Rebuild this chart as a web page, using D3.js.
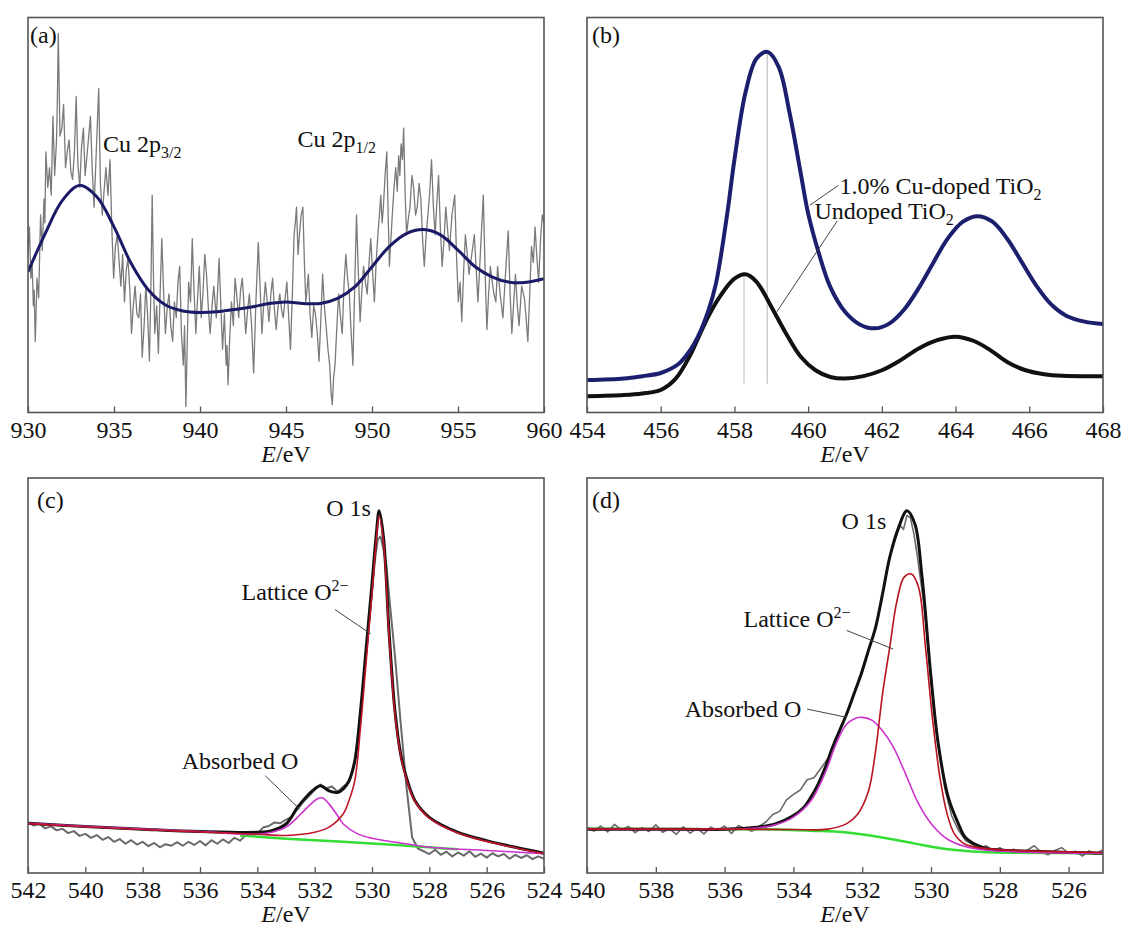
<!DOCTYPE html>
<html>
<head>
<meta charset="utf-8">
<script src="https://cdn.jsdelivr.net/npm/d3@7"></script>
<style>
  body { margin: 0; background: #fff; }
</style>
</head>
<body>
<div id="chart"></div>
<script>
// ---- (a) Cu 2p : raw spectrum and smoothed fit (intensity in a.u., 0-100)
const cuTicks = [930, 935, 940, 945, 950, 955, 960];
const cuRaw = [
  [930.00,40],[930.08,47],[930.17,34],[930.24,38],[930.31,27],[930.36,31],[930.42,18],[930.47,25],
  [930.52,34],[930.62,29],[930.73,50],[930.83,41],[930.93,54],[930.98,48],[931.04,66],[931.15,57],
  [931.25,62],[931.35,55],[931.45,75],[931.55,60],[931.66,69],[931.71,80],[931.76,96],[931.86,70],
  [931.97,72],[932.07,78],[932.18,62],[932.28,66],[932.39,69],[932.49,61],[932.59,59],[932.70,66],
  [932.80,80],[932.90,63],[933.01,57],[933.11,67],[933.22,72],[933.32,60],[933.43,65],[933.53,70],
  [933.63,75],[933.73,62],[933.84,52],[933.97,66],[934.11,82],[934.21,58],[934.32,50],[934.42,56],
  [934.53,62],[934.65,55],[934.77,64],[934.87,47],[934.98,34],[935.08,42],[935.19,45],[935.30,38],
  [935.40,32],[935.50,40],[935.61,28],[935.71,36],[935.81,39],[935.92,31],[936.02,20],[936.12,27],
  [936.23,32],[936.33,25],[936.44,24],[936.54,30],[936.64,14],[936.75,22],[936.85,32],[936.95,25],
  [937.06,13],[937.14,30],[937.22,55],[937.30,33],[937.37,20],[937.48,27],[937.58,15],[937.68,30],
  [937.78,44],[937.88,31],[937.99,20],[938.10,27],[938.20,30],[938.30,22],[938.41,18],[938.51,28],
  [938.62,24],[938.72,33],[938.82,37],[938.92,20],[939.03,12],[939.10,22],[939.18,1.5],[939.26,18],
  [939.34,33],[939.45,28],[939.55,44],[939.65,31],[939.76,20],[939.86,29],[939.96,37],[940.07,24],
  [940.17,30],[940.28,40],[940.38,35],[940.49,26],[940.59,20],[940.70,27],[940.80,32],[940.95,24],
  [941.11,39],[941.21,27],[941.31,16],[941.42,25],[941.52,12],[941.57,17],[941.63,7],[941.73,19],
  [941.83,28],[941.94,22],[942.04,34],[942.15,29],[942.25,24],[942.36,31],[942.46,34],[942.56,27],
  [942.66,20],[942.77,26],[942.87,30],[943.00,22],[943.12,10],[943.25,28],[943.39,43],[943.50,31],
  [943.60,20],[943.70,27],[943.80,33],[943.91,28],[944.01,23],[944.12,30],[944.22,34],[944.33,26],
  [944.43,21],[944.54,27],[944.64,30],[944.74,26],[944.84,24],[944.95,29],[945.05,33],[945.16,24],
  [945.26,16],[945.37,30],[945.47,45],[945.54,48],[945.61,52],[945.70,40],[945.78,45],[945.88,50],
  [945.98,52],[946.07,38],[946.15,28],[946.22,31],[946.30,35],[946.40,25],[946.50,19],[946.61,27],
  [946.71,25],[946.82,20],[946.92,13],[947.03,24],[947.13,35],[947.23,27],[947.33,22],[947.44,16],
  [947.54,12],[947.62,5],[947.69,2],[947.77,9],[947.85,12],[947.96,22],[948.06,30],[948.17,24],
  [948.27,20],[948.38,33],[948.48,40],[948.58,34],[948.68,30],[948.79,20],[948.89,12],[949.00,33],
  [949.10,50],[949.21,35],[949.31,23],[949.41,31],[949.51,37],[949.62,33],[949.72,30],[949.83,38],
  [949.93,44],[950.04,35],[950.14,28],[950.24,38],[950.34,45],[950.43,50],[950.51,55],[950.59,48],
  [950.66,52],[950.76,60],[950.86,66],[950.94,50],[951.01,37],[951.10,44],[951.18,50],[951.28,57],
  [951.38,62],[951.47,56],[951.55,65],[951.62,60],[951.69,68],[951.77,64],[951.84,72],[951.93,55],
  [952.01,45],[952.11,49],[952.21,52],[952.32,60],[952.42,57],[952.53,50],[952.63,52],[952.74,58],
  [952.84,54],[952.94,44],[953.04,37],[953.15,45],[953.25,50],[953.36,56],[953.46,64],[953.57,52],
  [953.67,45],[953.77,53],[953.87,60],[953.98,46],[954.08,37],[954.19,44],[954.29,52],[954.40,46],
  [954.50,41],[954.65,50],[954.81,55],[954.92,39],[955.02,28],[955.12,33],[955.22,23],[955.33,36],
  [955.43,45],[955.54,40],[955.64,35],[955.80,40],[955.95,45],[956.06,36],[956.16,28],[956.32,42],
  [956.47,55],[956.58,35],[956.68,21],[956.78,30],[956.88,37],[956.99,33],[957.09,30],[957.20,28],
  [957.30,37],[957.45,30],[957.61,24],[957.76,35],[957.92,46],[958.03,30],[958.13,20],[958.24,28],
  [958.34,35],[958.45,27],[958.55,22],[958.70,32],[958.86,29],[958.96,24],[959.06,18],[959.17,30],
  [959.27,42],[959.38,38],[959.48,47],[959.59,39],[959.69,33],[959.80,44],[959.90,50],[960.00,48]
];
const cuFit = [
  [930,35.6],[931,45.3],[932,53.7],[933,57.5],[934,54.6],[935,47],[936,37.7],[937,31],[938,27.2],
  [939,25.7],[940,25.3],[941,25.5],[942,26.1],[943,26.7],[944,27.6],[945,28],[946,27.6],[947,27.6],
  [948,28.9],[949,31.8],[950,36.9],[951,42],[952,45.3],[953,46.3],[954,44.9],[955,41.1],[956,36.9],
  [957,34.3],[958,33],[959,33],[960,33.9]
];

// ---- (b) Ti 2p : doped and undoped samples
const tiTicks = [454, 456, 458, 460, 462, 464, 466, 468];
const tiDoped = [
  [454,8.2],[455,8.6],[455.5,9.2],[456,10.0],[456.5,12.4],[456.8,15.8],[457,19.0],[457.3,26.0],
  [457.5,32.7],[457.8,50.0],[458,64.0],[458.3,81.0],[458.6,89.6],[458.9,91.3],[459.2,87.5],
  [459.5,75.7],[459.8,60.5],[460.0,50.4],[460.3,40.0],[460.6,31.8],[461,25.5],[461.4,22.3],
  [461.8,21.3],[462.2,22.5],[462.6,26.0],[463.0,31.5],[463.4,38.0],[463.8,44.2],[464.2,48.3],
  [464.6,49.7],[465.0,48.3],[465.4,44.0],[465.8,38.0],[466.2,32.0],[466.6,27.3],[467.0,24.5],
  [467.5,23.0],[468,22.4]
];
const tiUndoped = [
  [454,4.1],[455,4.4],[455.5,4.8],[456,5.7],[456.4,8.5],[456.8,14.5],[457,18.5],[457.3,24.5],
  [457.6,29.3],[458,33.9],[458.3,35.0],[458.6,33.1],[459,26.8],[459.4,20.0],[459.8,14.1],
  [460.2,10.7],[460.6,9.0],[461,8.6],[461.5,9.2],[462.0,10.7],[462.5,13.2],[463.0,16.2],[463.5,18.3],
  [464.0,19.2],[464.5,18.1],[464.94,15.8],[465.4,12.8],[465.9,10.7],[466.4,9.7],[466.9,9.3],[468,9.2]
];
const tiPeakLines = [[458.26, 35.0], [458.89, 91.0]];

// ---- (c) O 1s, undoped
const o1Ticks = [542, 540, 538, 536, 534, 532, 530, 528, 526, 524];
const o1Raw = [
  [542,12.9],[541.8,12.0],[541.6,12.5],[541.4,11.3],[541.2,11.8],[541,10.8],[540.8,11.2],[540.6,10.1],
  [540.4,10.6],[540.2,9.4],[540,9.9],[539.8,8.9],[539.6,9.6],[539.4,8.4],[539.2,9.1],[539,7.9],
  [538.8,8.6],[538.6,7.4],[538.4,8.3],[538.2,7.2],[538,7.9],[537.8,6.8],[537.6,7.6],[537.4,6.5],
  [537.2,7.3],[537,6.9],[536.8,7.8],[536.6,6.9],[536.4,7.9],[536.2,7.1],[536,8.1],[535.8,7.0],
  [535.6,8.3],[535.4,7.4],[535.2,8.5],[535,7.6],[534.8,8.9],[534.6,8.2],[534.4,9.6],[534.2,10.4],
  [534,10.0],[533.8,11.5],[533.6,11.9],[533.4,12.8],[533.2,12.6],[533,13.5],[532.8,14.2],[532.6,16.2],
  [532.4,18.0],[532.2,19.5],[532,21.0],[531.8,22.4],[531.6,21.4],[531.4,21.9],[531.2,20.6],[531,21.9],
  [530.8,23.0],[530.6,28],[530.4,40.5],[530.2,56],[530,71],[529.9,79],[529.8,84.5],[529.7,85.2],
  [529.6,82],[529.5,78],[529.4,70],[529.2,55],[529.0,38],[528.8,22],[528.6,9],[528.4,6.2],
  [528.2,5.5],[528,4.8],[527.8,5.9],[527.6,4.6],[527.4,5.4],[527.2,4.2],[527,5.2],[526.8,4.4],
  [526.6,5.5],[526.4,4.1],[526.2,4.9],[526,3.9],[525.8,5.0],[525.6,4.2],[525.4,4.8],[525.2,3.6],
  [525,4.6],[524.8,3.8],[524.6,4.5],[524.4,3.5],[524.2,4.2],[524,3.6]
];
const o1Fit = [
  [542,12.6],[540,11.8],[538,11.1],[536,10.5],[534,10.3],[533.5,10.7],[533,12.4],[532.6,16.6],
  [532.2,20.0],[532,21.3],[531.8,22.1],[531.5,20.8],[531.2,20.4],[531,21.3],[530.8,23.4],[530.6,28.4],
  [530.4,41.1],[530.2,57.1],[530.0,73.2],[529.85,85.8],[529.75,91.7],[529.6,85.0],[529.4,60.5],
  [529.2,41.1],[529,30.1],[528.8,24.2],[528.5,18.3],[528,14.1],[527,10.3],[526,8.2],[525,6.5],[524,5.0]
];
const o1Lattice = [
  [542,12.5],[540,11.7],[538,11.0],[536,10.4],[534,9.8],[533,9.5],[532,10.3],[531.5,11.6],[531,15.0],
  [530.8,18.4],[530.6,23.4],[530.4,36.9],[530.2,53.8],[530,70.7],[529.85,84.4],[529.75,90.4],
  [529.6,83.7],[529.4,59.6],[529.2,40.3],[529,29.8],[528.8,23.8],[528.5,18.1],[528,13.9],[527,10.1],
  [526,8.0],[525,6.4],[524,4.9]
];
const o1Absorbed = [
  [542,12.6],[540,11.8],[538,11.1],[536,10.5],[534,9.8],[533.5,10.3],[533,11.6],[532.5,14.8],
  [532.2,17.0],[531.9,18.8],[531.72,19.0],[531.5,17.5],[531.2,14.5],[531,12.4],[530.5,9.9],[530,8.8],
  [529,7.6],[528,6.5],[526,5.7],[524,4.9]
];
const o1Background = [[534.6,9.5],[533,8.7],[531,7.9],[529,7.0],[528,6.5],[527,6.0]];

// ---- (d) O 1s, 1.0% Cu-doped
const o2Ticks = [540, 538, 536, 534, 532, 530, 528, 526];
const o2Raw = [
  [540,11.6],[539.8,10.6],[539.6,11.9],[539.4,10.4],[539.2,12.3],[539,10.9],[538.8,11.8],[538.6,10.2],
  [538.4,11.5],[538.2,10.5],[538,12.2],[537.8,10.3],[537.6,11.2],[537.4,9.8],[537.2,11.7],[537,10.1],
  [536.8,11.3],[536.6,9.9],[536.4,11.6],[536.2,10.8],[536,11.9],[535.8,10.0],[535.6,12.0],[535.4,11.2],
  [535.2,10.6],[535,11.8],[534.8,12.9],[534.6,14.8],[534.4,15.6],[534.2,18.5],[534,19.9],[533.8,21.0],
  [533.6,23.6],[533.4,24.1],[533.2,26.5],[533,29.0],[532.8,33.5],[532.6,37.0],[532.4,41.5],[532.2,46.5],
  [532,50.6],[531.8,56.8],[531.6,62.5],[531.4,71.0],[531.2,80.0],[531,85.5],[530.9,88.0],[530.8,87.0],
  [530.7,90.5],[530.6,90.0],[530.5,86.0],[530.4,80.5],[530.2,67.5],[530,49.5],[529.8,33.0],[529.6,21.5],
  [529.4,14.5],[529.2,10.8],[529,8.3],[528.8,7.2],[528.6,6.0],[528.4,6.9],[528.2,5.6],[528,6.4],
  [527.8,5.2],[527.6,6.0],[527.4,5.1],[527.2,5.8],[527,6.9],[526.8,5.3],[526.6,4.6],[526.4,5.7],
  [526.2,6.4],[526,5.0],[525.8,5.5],[525.6,4.3],[525.4,5.6],[525.2,4.8],[525,5.9]
];
const o2Fit = [
  [540,11.1],[538,11.1],[536,11.1],[535.05,11.6],[534.53,12.4],[534.01,14.5],[533.7,16.6],[533.49,19.2],
  [533.28,22.5],[533.07,26.8],[532.86,31.8],[532.66,36.0],[532.45,40.3],[532.24,45.3],[532.03,50.4],
  [531.82,56.3],[531.61,62.2],[531.41,70.6],[531.2,79.9],[530.94,87.5],[530.7,91.7],[530.47,88.4],
  [530.26,74.9],[530.0,49.5],[529.79,32.7],[529.5,19.2],[529.2,12.4],[529.0,9.0],[528.5,6.5],
  [528,5.8],[527,5.5],[526,5.2],[525,5.0]
];
const o2Lattice = [
  [540,11.1],[536,11.1],[534,11.0],[533,11.1],[532.45,12.5],[532.14,14.8],[531.82,20.7],[531.61,31],
  [531.41,45.3],[531.2,57.1],[530.99,68.9],[530.78,74.9],[530.57,75.7],[530.36,72.3],[530.16,57.1],
  [529.95,38.6],[529.74,24.2],[529.53,14.9],[529.32,9.9],[529.01,7.3],[528.28,6.1],[525,5.2]
];
const o2Absorbed = [
  [540,11.1],[536,11.1],[535.05,11.4],[534.53,12.2],[534.01,14.1],[533.49,18.3],[533.07,25.5],
  [532.76,32.7],[532.45,37.7],[532.19,39.2],[531.98,39.4],[531.72,38.7],[531.41,36.0],[531.09,31.8],
  [530.78,25.9],[530.36,17.5],[529.95,12.0],[529.53,8.6],[529.01,6.7],[528.28,5.7],[525,5.0]
];
const o2Background = [
  [540,11.2],[536,11.1],[534.5,11.0],[533.5,10.7],[532.5,10.3],[531.5,9.1],[530.5,7.5],[529.5,6.0],
  [528.5,5.3],[527.5,5.1],[525,5.0]
];

// ---- layout
const W = 516, H = 395;
const FONT = "'Liberation Serif', 'Times New Roman', Times, serif";
const svg = d3.select("#chart").append("svg")
  .attr("width", 1121).attr("height", 927)
  .style("font-family", FONT);

let clipId = 0;

// builds one framed panel with its scales and bottom axis
function makePanel(px, py, domain, ticks, tag, tagX, tagY) {
  const g = svg.append("g").attr("transform", "translate(" + px + "," + py + ")");
  const x = d3.scaleLinear().domain(domain).range([0, W]);
  const y = d3.scaleLinear().domain([0, 100]).range([H, 0]);

  const id = "clip" + (clipId++);
  g.append("clipPath").attr("id", id)
    .append("rect").attr("width", W).attr("height", H);
  const plot = g.append("g").attr("clip-path", "url(#" + id + ")");

  const axis = g.append("g").attr("transform", "translate(0," + H + ")")
    .call(d3.axisBottom(x).tickValues(ticks).tickSizeInner(-6).tickSizeOuter(0).tickPadding(8));
  axis.select(".domain").remove();
  axis.attr("font-family", null).attr("font-size", null);
  axis.selectAll(".tick line").attr("stroke", "#555").attr("stroke-width", 1.3);
  axis.selectAll(".tick text").attr("fill", "#111")
    .style("font-family", FONT).style("font-size", "24px");

  // E/eV label
  const lab = g.append("text").attr("x", W / 2).attr("y", H + 49)
    .attr("text-anchor", "middle").attr("fill", "#111")
    .style("font-family", FONT).style("font-size", "24px");
  lab.append("tspan").style("font-style", "italic").text("E");
  lab.append("tspan").text("/eV");

  g.append("text").attr("x", tagX).attr("y", tagY).attr("fill", "#111")
    .style("font-family", FONT).style("font-size", "24px").text(tag);

  return { g: g, plot: plot, x: x, y: y };
}

function drawLine(p, data, color, width, curve) {
  const line = d3.line()
    .x(d => p.x(d[0])).y(d => p.y(d[1]))
    .curve(curve || d3.curveLinear);
  p.plot.append("path").datum(data)
    .attr("d", line).attr("fill", "none")
    .attr("stroke", color).attr("stroke-width", width)
    .attr("stroke-linejoin", "round");
}

function frame(p) {
  p.g.append("rect").attr("width", W).attr("height", H)
    .attr("fill", "none").attr("stroke", "#555").attr("stroke-width", 1.6);
}

// text with optional sub/superscript part
function label(p, e, v, main, extra, kind, anchor) {
  const t = p.g.append("text").attr("x", p.x(e)).attr("y", p.y(v))
    .attr("fill", "#111").style("font-family", FONT).style("font-size", "24px")
    .attr("text-anchor", anchor || "start");
  t.append("tspan").text(main);
  if (extra) {
    t.append("tspan").attr("dy", kind === "sub" ? 6 : -9)
      .style("font-size", "16px").text(extra);
  }
}

function leader(p, e1, v1, e2, v2) {
  p.g.append("line")
    .attr("x1", p.x(e1)).attr("y1", p.y(v1))
    .attr("x2", p.x(e2)).attr("y2", p.y(v2))
    .attr("stroke", "#444").attr("stroke-width", 1);
}

const smooth = d3.curveCatmullRom.alpha(0.5);

// (a)
const pa = makePanel(28, 17.5, [930, 960], cuTicks, "(a)", 2, 25);
drawLine(pa, cuRaw, "#7a7a7a", 1.3);
drawLine(pa, cuFit, "#1a1a66", 3, smooth);
frame(pa);
label(pa, 934.36, 66, "Cu 2p", "3/2", "sub");
label(pa, 945.67, 67.3, "Cu 2p", "1/2", "sub");

// (b)
const pb = makePanel(587, 17.5, [454, 468], tiTicks, "(b)", 5, 25);
tiPeakLines.forEach(d => {
  pb.plot.append("line")
    .attr("x1", pb.x(d[0])).attr("x2", pb.x(d[0]))
    .attr("y1", pb.y(7.3)).attr("y2", pb.y(d[1]))
    .attr("stroke", "#cfcfcf").attr("stroke-width", 1.5);
});
drawLine(pb, tiUndoped, "#111", 4, smooth);
drawLine(pb, tiDoped, "#1b1f6e", 4, smooth);
frame(pb);
label(pb, 460.85, 55.4, "1.0% Cu-doped TiO", "2", "sub");
label(pb, 460.17, 49.1, "Undoped TiO", "2", "sub");
leader(pb, 460.05, 52.5, 460.82, 57.5);
leader(pb, 460.79, 48.5, 459.15, 25.5);

// (c)
const pc = makePanel(28, 478, [542, 524], o1Ticks, "(c)", 9, 30);
drawLine(pc, o1Raw, "#6a6a6a", 2);
drawLine(pc, o1Background, "#33dd33", 2.5, smooth);
drawLine(pc, o1Fit, "#111", 3, smooth);
drawLine(pc, o1Absorbed, "#cc33cc", 1.6, smooth);
drawLine(pc, o1Lattice, "#c0142a", 1.6, smooth);
frame(pc);
label(pc, 530.04, 90.5, "O 1s", null, null, "end");
label(pc, 534.55, 69, "Lattice O", "2\u2212", "sup");
leader(pc, 531.29, 66.7, 530.04, 60.5);
label(pc, 536.64, 26.3, "Absorbed O");
leader(pc, 533.72, 24.6, 532.53, 16.2);

// (d)
const pd = makePanel(587, 478, [540, 525], o2Ticks, "(d)", 5, 30);
drawLine(pd, o2Raw, "#6a6a6a", 1.6);
drawLine(pd, o2Background, "#33dd33", 2.5, smooth);
drawLine(pd, o2Fit, "#111", 3, smooth);
drawLine(pd, o2Absorbed, "#cc33cc", 1.6, smooth);
drawLine(pd, o2Lattice, "#b8121e", 1.6, smooth);
frame(pd);
label(pd, 531.3, 87.1, "O 1s", null, null, "end");
label(pd, 535.45, 62.4, "Lattice O", "2\u2212", "sup");
leader(pd, 532.45, 61.4, 531.1, 56.7);
label(pd, 537.16, 39.4, "Absorbed O");
leader(pd, 533.6, 41.5, 532.45, 39.4);
</script>
</body>
</html>
